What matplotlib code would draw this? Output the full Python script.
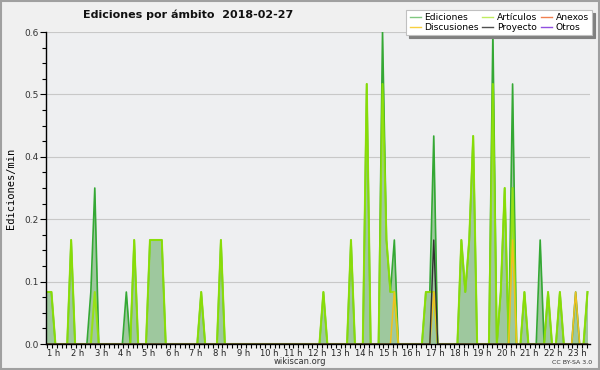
import numpy as np
import matplotlib
matplotlib.use("Agg")
import matplotlib.pyplot as plt
from matplotlib.ticker import MultipleLocator, FixedLocator, FuncFormatter

# Values, edits per minute in 10-minute bins (zero elsewhere).
ediciones = {
    "00:50": 0.1, "01:00": 0.1, "01:10": 0.1, "02:00": 0.2, "02:50": 0.1, "03:00": 0.3,
    "04:20": 0.1, "04:40": 0.2, "05:20": 0.2, "05:30": 0.2, "05:40": 0.2, "05:50": 0.2,
    "07:30": 0.1, "08:20": 0.2, "12:40": 0.1, "13:50": 0.2, "14:30": 0.5,
    "15:10": 0.6, "15:20": 0.2, "15:30": 0.1, "15:40": 0.2,
    "17:00": 0.1, "17:10": 0.1, "17:20": 0.4,
    "18:30": 0.2, "18:40": 0.1, "18:50": 0.2, "19:00": 0.4,
    "19:50": 0.6, "20:10": 0.1, "20:20": 0.3, "20:40": 0.5, "21:10": 0.1,
    "21:50": 0.2, "22:10": 0.1, "22:40": 0.1, "23:20": 0.1, "23:50": 0.1,
}
articulos = {
    "00:50": 0.1, "01:00": 0.1, "01:10": 0.1, "02:00": 0.2, "03:00": 0.1,
    "04:40": 0.2, "05:20": 0.2, "05:30": 0.2, "05:40": 0.2, "05:50": 0.2,
    "07:30": 0.1, "08:20": 0.2, "12:40": 0.1, "13:50": 0.2, "14:30": 0.5,
    "15:10": 0.5, "15:20": 0.2, "15:30": 0.1, "15:40": 0.1,
    "17:00": 0.1, "17:10": 0.1, "17:20": 0.1,
    "18:30": 0.2, "18:40": 0.1, "18:50": 0.2, "19:00": 0.4,
    "19:50": 0.5, "20:10": 0.1, "20:20": 0.3, "20:40": 0.3, "21:10": 0.1,
    "22:10": 0.1, "22:40": 0.1, "23:50": 0.1,
}
discusiones = {"15:40": 0.1, "17:20": 0.1, "20:40": 0.2, "23:20": 0.1}
proyecto = {"17:20": 0.2}
anexos = {}
otros = {}

hour_ticks = list(range(1, 24))
hour_labels = [f"{h} h" for h in hour_ticks]
y_ticks = [0.0, 0.12, 0.24, 0.36, 0.48, 0.6]

# 10-minute grid covering the visible window
grid = np.arange(50, 23 * 60 + 51, 10) / 60.0


def to_series(d):
    vals = np.zeros(len(grid))
    for k, v in d.items():
        hh, mm = k.split(":")
        idx = int(round((int(hh) + int(mm) / 60.0 - grid[0]) * 6))
        vals[idx] = v
    return vals


fig = plt.figure(figsize=(6, 3.7), dpi=100, facecolor="#f0f0f0")
ax = fig.add_axes([46 / 600, 26 / 370, 544 / 600, 312 / 370])
ax.set_facecolor("#eeeff1")

ed = to_series(ediciones)
ax.fill_between(grid, 0, ed, color="#9ec89e", lw=0, zorder=2)
ax.plot(grid, to_series(anexos), color="#f07840", lw=1, zorder=1)
ax.plot(grid, to_series(otros), color="#9048e0", lw=1, zorder=1)
ax.plot(grid, ed, color="#34a834", lw=1.2, zorder=3)
ax.plot(grid, to_series(articulos), color="#96e600", lw=1.5, alpha=0.85, zorder=4)
ax.plot(grid, to_series(discusiones), color="#f0c020", lw=1.1, zorder=5)
ax.plot(grid, to_series(proyecto), color="#303030", lw=1.0, zorder=6)

ax.set_xlim(0.937, 23.94)
ax.set_ylim(0, 0.6)

ax.yaxis.set_major_locator(FixedLocator(y_ticks))
ax.yaxis.set_major_formatter(FuncFormatter(lambda v, p: f"{v:.1f}"))
ax.yaxis.set_minor_locator(MultipleLocator(0.03))
ax.xaxis.set_major_locator(FixedLocator(hour_ticks))
ax.set_xticklabels(hour_labels)
ax.xaxis.set_minor_locator(MultipleLocator(0.2))

ax.tick_params(axis="y", which="major", length=4, width=0.8, labelsize=6.5, pad=1, labelcolor="#333333")
ax.tick_params(axis="y", which="minor", length=3, width=0.8)
ax.tick_params(axis="x", which="both", length=3, width=0.8, labelsize=6, pad=0.5, labelcolor="#222222")
for lbl in ax.get_xticklabels():
    lbl.set_ha("left")
ax.grid(axis="y", color="#c8c8c8", lw=0.8, zorder=0)
ax.set_axisbelow(True)

for s in ["top", "right"]:
    ax.spines[s].set_visible(False)
ax.spines["left"].set_linewidth(1)
ax.spines["bottom"].set_linewidth(1)
ax.spines["left"].set_zorder(10)
ax.spines["bottom"].set_zorder(10)

ax.set_ylabel("Ediciones/min", family="DejaVu Sans Mono", fontsize=7.5, labelpad=6)

fig.text(188 / 600, 1 - 15 / 370, "Ediciones por ámbito  2018-02-27", ha="center", va="center",
         fontsize=8, fontweight="bold", color="#111111")
fig.text(300 / 600, 1 - 362 / 370, "wikiscan.org", ha="center", va="center", fontsize=6, color="#333333")
fig.text(572 / 600, 1 - 362 / 370, "CC BY-SA 3.0", ha="center", va="center", fontsize=4.5, color="#333333")

# legend entries in the column-wise order matplotlib uses
handles = [
    plt.Line2D([], [], color="#80c880", lw=1),
    plt.Line2D([], [], color="#f8d040", lw=1),
    plt.Line2D([], [], color="#c0ec60", lw=1),
    plt.Line2D([], [], color="#505050", lw=1),
    plt.Line2D([], [], color="#f08050", lw=1),
    plt.Line2D([], [], color="#9050e0", lw=1),
]
labels = ["Ediciones", "Discusiones", "Artículos", "Proyecto", "Anexos", "Otros"]
leg = fig.legend(handles, labels, ncol=3, loc="upper right", bbox_to_anchor=(592 / 600, 1 - 10 / 370),
                 fontsize=6.6, frameon=True, fancybox=False, shadow={"color": "#808080", "alpha": 1},
                 borderpad=0.35, labelspacing=0.1, columnspacing=0.4, handlelength=1.2,
                 handletextpad=0.4, borderaxespad=0)
leg.get_frame().set_edgecolor("#c0c0c0")
leg.get_frame().set_linewidth(0.8)
leg.set_zorder(20)

# gray outline around the whole picture
fig.patches.append(plt.Rectangle((0.001, 0.002), 0.998, 0.996, transform=fig.transFigure,
                                 fill=False, edgecolor="#a0a0a0", lw=1.5))

fig.savefig("out.png", dpi=100, facecolor=fig.get_facecolor())
